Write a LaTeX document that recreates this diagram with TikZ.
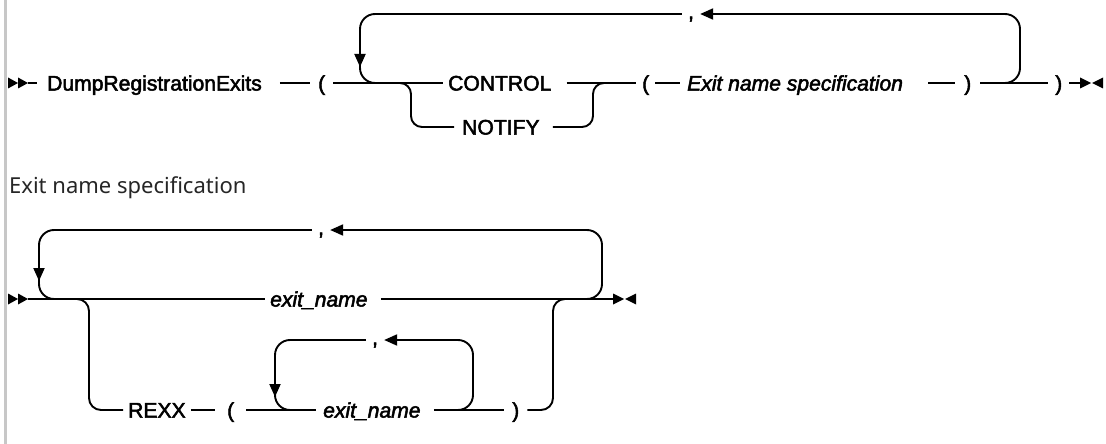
\documentclass[tikz,border=0pt]{standalone}
\usepackage{fontspec}
\setmainfont{Liberation Sans}
\newfontfamily\tokfont{Liberation Sans}[FakeBold=2.4]
\newfontfamily\labelfont{Noto Sans}
\usetikzlibrary{arrows.meta}
\begin{document}
\begin{tikzpicture}[x=1pt,y=-1pt,
  ln/.style={line width=1.9pt, black},
  arr/.style={-{Triangle[length=13pt,width=11pt]}},
  tok/.style={font=\tokfont\fontsize{21.1pt}{25pt}\selectfont, text height=15.1pt, text depth=0pt, inner ysep=0pt, anchor=west},
  itok/.style={tok, font=\tokfont\fontsize{21.1pt}{25pt}\selectfont\itshape},
  commanode/.style={font=\tokfont\fontsize{21.1pt}{25pt}\selectfont, text height=10pt, text depth=0pt, inner ysep=0pt, inner xsep=6pt},
  startmark/.pic={\fill (-20,-5.5) -- (-10,0) -- (-20,5.5) -- cycle; \fill (-10,-5.5) -- (0,0) -- (-10,5.5) -- cycle;},
  endmark/.pic={\fill (0,-5.5) -- (11,0) -- (0,5.5) -- cycle; \fill (23,-5.5) -- (12,0) -- (23,5.5) -- cycle;},
]
% background and margin bar
\fill[white] (0,0) rectangle (1106,444);
\fill[black!22] (4,0) rectangle (7,444);

% ---------- top diagram ----------
\coordinate (s1) at (28,83);
\pic at (s1) {startmark};
\node[tok, inner xsep=10pt] (dre) at (37,83) {DumpRegistrationExits\hspace*{8pt}};
\node[tok, inner xsep=8pt] (lp1) at (310,83) {(};
\node[tok, inner xsep=5pt] (ctl) at (443,83) {CONTROL\hspace*{10pt}};
\node[tok, inner xsep=8pt] (ntf) at (454,127) {NOTIFY\hspace*{5pt}};
\node[tok, inner xsep=6pt] (lp2) at (636,83) {(};
\node[itok, inner xsep=7pt] (ens) at (680,83) {Exit name specification\hspace*{18pt}};
\node[tok, inner xsep=9pt] (rp1) at (955,83) {)};
\node[tok, inner xsep=7pt] (rp2) at (1048,83) {)};
\coordinate (e1) at (1080,83);
\pic at (e1) {endmark};
\node[commanode] (c1) at (691,14) {,};

\draw[ln] (s1) -- (dre.west);
\draw[ln] (dre.east) -- (lp1.west);
\draw[ln] (lp1.east) -- (ctl.west);
\draw[ln] (ctl.east) -- (lp2.west);
\draw[ln] (lp2.east) -- (ens.west);
\draw[ln] (ens.east) -- (rp1.west);
\draw[ln] (rp1.east) -- (rp2.west);
\draw[ln] (rp2.east) -- (e1);

\draw[ln, arr, rounded corners=15pt] (1000,83) -- (1020,83) -- (1020,14) -- (c1.east);
\draw[ln, arr, rounded corners=15pt] (c1.west) -- (360,14) -- (360,67);
\draw[ln, rounded corners=15pt] (360,55) -- (360,83) -- (380,83);

\draw[ln, rounded corners=11pt] (395,83) -- (411,83) -- (411,127) -- (ntf.west);
\draw[ln, rounded corners=11pt] (ntf.east) -- (593,127) -- (593,83) -- (608,83);

% ---------- label ----------
\node[anchor=base west, inner sep=0pt, font=\labelfont\fontsize{22pt}{26pt}\selectfont, text=black!85] (lbl) at (9,193) {Exit name specification};

% ---------- lower diagram ----------
\coordinate (s2) at (28,299);
\pic at (s2) {startmark};
\node[itok, inner xsep=5pt] (en1) at (265,299) {exit\_name\hspace*{8pt}};
\coordinate (e2) at (613,299);
\pic at (e2) {endmark};
\draw[ln] (s2) -- (en1.west);
\draw[ln] (en1.east) -- (e2);
\node[commanode] (c2) at (321,230) {,};
\draw[ln, arr, rounded corners=15pt] (585,299) -- (602,299) -- (602,230) -- (c2.east);
\draw[ln, arr, rounded corners=15pt] (c2.west) -- (39,230) -- (39,281);
\draw[ln, rounded corners=15pt] (39,270) -- (39,299) -- (58,299);

\node[tok, inner xsep=5pt] (rexx) at (123,410) {REXX};
\node[tok, inner xsep=12pt] (lp3) at (215,410) {(};
\node[itok, inner xsep=7pt] (en2) at (316,410) {exit\_name\hspace*{6pt}};
\node[tok, inner xsep=8pt] (rp3) at (504,410) {)};
\node[commanode] (c3) at (375,340) {,};
\draw[ln, rounded corners=12pt] (75,299) -- (89,299) -- (89,410) -- (rexx.west);
\draw[ln] (rexx.east) -- (lp3.west);
\draw[ln] (lp3.east) -- (en2.west);
\draw[ln] (en2.east) -- (rp3.west);
\draw[ln, rounded corners=12pt] (rp3.east) -- (553,410) -- (553,299) -- (568,299);
\draw[ln, arr, rounded corners=15pt] (458,410) -- (473,410) -- (473,340) -- (c3.east);
\draw[ln, arr, rounded corners=15pt] (c3.west) -- (275,340) -- (275,397);
\draw[ln, rounded corners=15pt] (275,385) -- (275,410) -- (292,410);
\end{tikzpicture}
\end{document}
